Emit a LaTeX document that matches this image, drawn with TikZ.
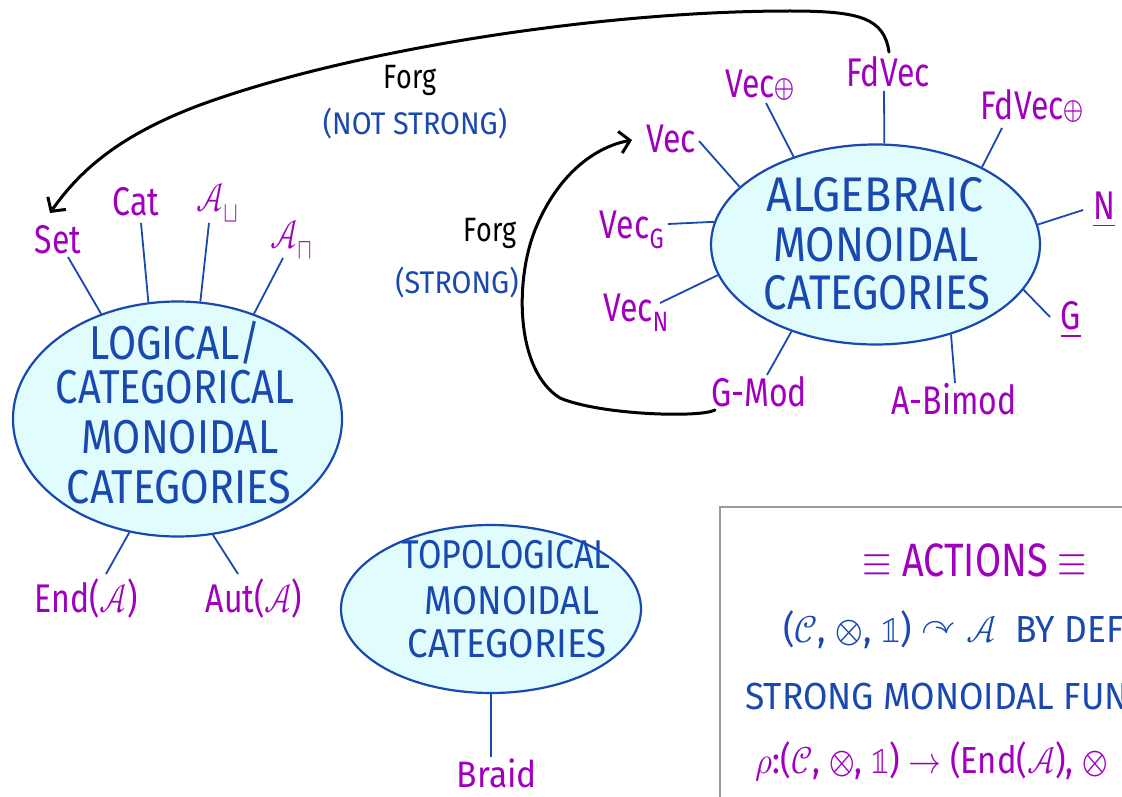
\documentclass[tikz,border=0pt]{standalone}
\usepackage{graphicx}
\usepackage{fontspec}
\usepackage{unicode-math}
\setmainfont{Fira Sans}
\setmathfont{Latin Modern Math}
\usetikzlibrary{shapes.geometric,arrows.meta}
\definecolor{lab}{HTML}{A000BE}
\definecolor{ink}{HTML}{1948B0}
\definecolor{fillc}{HTML}{E0FCFC}
\definecolor{boxgray}{HTML}{9A9A9A}
\newcommand{\tl}[2][1]{\scalebox{#1}[1.25]{#2}}
\newcommand{\tlx}[3]{\scalebox{#1}[#2]{#3}}
\begin{document}
\begin{tikzpicture}[x=1pt,y=-1pt,
  catell/.style={ellipse,draw=ink,line width=2.2pt,fill=fillc,inner sep=0pt},
  big/.style={text=ink,font=\fontsize{38}{38}\selectfont,inner sep=0pt},
  lbl/.style={text=lab,font=\fontsize{32}{32}\selectfont,inner sep=0pt},
  spoke/.style={draw=ink,line width=1.8pt},
  forg/.style={draw=black,line width=3pt,line cap=round,
    -{Straight Barb[length=10pt,width=22pt,line width=3pt]}},
  forgtxt/.style={text=black,font=\fontsize{27}{27}\selectfont,inner sep=0pt},
  strtxt/.style={text=ink,font=\fontsize{25}{25}\selectfont,inner sep=0pt},
  acttxt/.style={anchor=west,inner sep=0pt}]
\useasboundingbox (0,0) rectangle (1122,797);
\clip (0,0) rectangle (1122,797);
\fill[white] (0,0) rectangle (1122,797);

% ellipses
\node[catell,minimum width=329pt,minimum height=235pt] (log) at (177.5,419) {};
\node[catell,minimum width=329pt,minimum height=200pt] (alg) at (875.5,244.5) {};
\node[catell,minimum width=300pt,minimum height=168pt] (top) at (491,609) {};

% ellipse texts
\node[big] (logA) at (175,343) {\tlx{1.07}{1.25}{LOGICAL/}};
\node[big] (logB) at (175,387) {\tlx{1.05}{1.25}{CATEGORICAL}};
\node[big] (logC) at (180,437) {\tlx{1.07}{1.25}{MONOIDAL}};
\node[big] (logD) at (179,487) {\tlx{1.09}{1.25}{CATEGORIES}};
\node[big] (algA) at (875,195) {\tlx{1.18}{1.28}{ALGEBRAIC}};
\node[big] (algB) at (876,245) {\tlx{1.12}{1.28}{MONOIDAL}};
\node[big] (algC) at (877,293) {\tlx{1.1}{1.28}{CATEGORIES}};
\node[big,font=\fontsize{35}{35}\selectfont] (topA) at (506,555) {\tlx{0.97}{1.15}{TOPOLOGICAL}};
\node[big,font=\fontsize{35}{35}\selectfont] (topB) at (512,601) {\tlx{1.03}{1.15}{MONOIDAL}};
\node[big,font=\fontsize{35}{35}\selectfont] (topC) at (507,644) {\tlx{1.05}{1.15}{CATEGORIES}};

% labels (logical)
\node[lbl] (set) at (58,240) {\tl{Set}};
\node[lbl] (cat) at (136,202) {\tl{Cat}};
\node[lbl] (acup) at (218,203) {\tl{$\mathcal{A}_{\sqcup}$}};
\node[lbl] (acap) at (292,240) {\tl{$\mathcal{A}_{\sqcap}$}};
\node[lbl] (end) at (86,598) {\tl{End($\mathcal{A}$)}};
\node[lbl] (aut) at (254,598) {\tl{Aut($\mathcal{A}$)}};
% labels (algebraic)
\node[lbl] (vec) at (671,139) {\tl{Vec}};
\node[lbl] (vecp) at (760,85) {\tl{Vec\scalebox{0.8}{$\oplus$}}};
\node[lbl] (fdvec) at (888,72) {\tl{FdVec}};
\node[lbl] (fdvecp) at (1032,106) {\tl{FdVec\scalebox{0.8}{$\oplus$}}};
\node[lbl] (nn) at (1104,210) {\tl{\underline{N}}};
\node[lbl] (vecg) at (632,230) {\tl{Vec$_{\mathrm{G}}$}};
\node[lbl] (vecn) at (636,313) {\tl{Vec$_{\mathrm{N}}$}};
\node[lbl] (gg) at (1071,320) {\tl{\underline{G}}};
\node[lbl] (gmod) at (759,392) {\tl{G-Mod}};
\node[lbl] (abimod) at (954,399) {\tl{A-Bimod}};
% labels (topological)
\node[lbl] (braid) at (497,773) {\tlx{1.05}{1.15}{Braid}};

% spokes
\coordinate (sSet) at (68,257);   \draw[spoke] (sSet) -- (log.126);
\coordinate (sCat) at (141,223);  \draw[spoke] (sCat) -- (log.104.4);
\coordinate (sCup) at (209,223);  \draw[spoke] (sCup) -- (log.79);
\coordinate (sCap) at (283,258);  \draw[spoke] (sCap) -- (log.54);
\coordinate (sEnd) at (106,574);  \draw[spoke] (sEnd) -- (log.247);
\coordinate (sAut) at (238,574);  \draw[spoke] (sAut) -- (log.287);

\coordinate (sVec) at (699,141);   \draw[spoke] (sVec) -- (alg.157.7);
\coordinate (sVecp) at (766,103);  \draw[spoke] (sVecp) -- (alg.133.6);
\coordinate (sFd) at (884,91);     \draw[spoke] (sFd) -- (alg.85.1);
\coordinate (sFdp) at (1002,128);  \draw[spoke] (sFdp) -- (alg.36.2);
\coordinate (sN) at (1083,210);    \draw[spoke] (sN) -- (alg.7.9);
\coordinate (sG) at (1050,317);    \draw[spoke] (sG) -- (alg.-17);
\coordinate (sAB) at (955,383);    \draw[spoke] (sAB) -- (alg.-50.9);
\coordinate (sGM) at (767,375);    \draw[spoke] (sGM) -- (alg.226.5);
\coordinate (sVN) at (660,303);    \draw[spoke] (sVN) -- (alg.191.5);
\coordinate (sVG) at (668,224);    \draw[spoke] (sVG) -- (alg.172.8);

\coordinate (sBr) at (491,757);    \draw[spoke] (sBr) -- (top.south);

% Forg arrows
\coordinate (f1s) at (889,52);
\coordinate (f1e) at (50,213);
\draw[forg] (f1s) .. controls (884,18) and (860,11) .. (790,11)
  .. controls (600,11) and (350,50) .. (200,105)
  .. controls (120,135) and (80,170) .. (f1e);
\node[forgtxt] (forg1) at (410,80) {\tl{Forg}};
\node[strtxt] (ns1) at (415,124) {\tlx{1.15}{1.25}{(NOT STRONG)}};

\coordinate (f2s) at (715,410);
\coordinate (f2e) at (632,140);
\draw[forg] (f2s) .. controls (700,418) and (600,415) .. (560,398)
  .. controls (515,370) and (515,280) .. (535,230)
  .. controls (555,180) and (590,148) .. (f2e);
\node[forgtxt] (forg2) at (490,233) {\tl{Forg}};
\node[strtxt] (ns2) at (457,283) {\tlx{1.15}{1.25}{(STRONG)}};

% actions box
\draw[boxgray,line width=2pt] (720,507) rectangle (1140,810);
\node[text=lab,font=\fontsize{36}{36}\selectfont,inner sep=0pt] (acth) at (975,560) {\tlx{1.05}{1.3}{$\equiv$ ACTIONS $\equiv$}};
\node[acttxt,text=ink,font=\fontsize{29}{29}\selectfont] (act1) at (783,630) {\tlx{1.22}{1.3}{($\mathcal{C}$, $\otimes$, $\mathbb{1}$) $\curvearrowright\mathcal{A}$ \ BY DEF}};
\node[acttxt,text=ink,font=\fontsize{29}{29}\selectfont] (act2) at (745,697) {\tlx{1.22}{1.3}{STRONG MONOIDAL FUN}};
\node[acttxt,text=lab,font=\fontsize{29}{29}\selectfont] (act3) at (755,762) {\tlx{1.13}{1.3}{$\rho$:($\mathcal{C}$, $\otimes$, $\mathbb{1}$) $\rightarrow$ (End($\mathcal{A}$), $\otimes$}};
\end{tikzpicture}
\end{document}
